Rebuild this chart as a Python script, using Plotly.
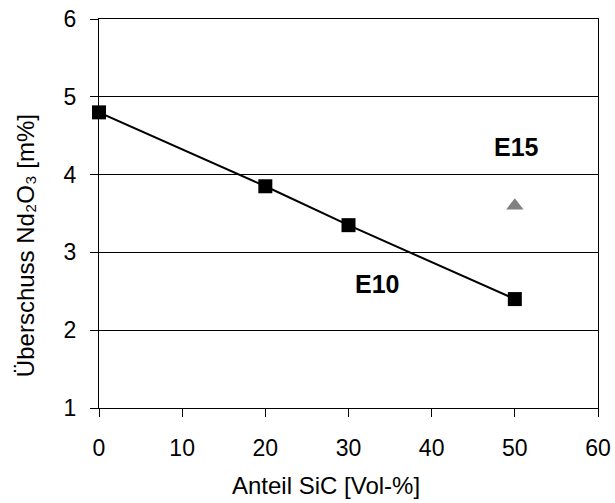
import plotly.graph_objects as go

x_e10 = [0, 20, 30, 50]
y_e10 = [4.8, 3.85, 3.35, 2.4]
x_e15 = [50]
y_e15 = [3.6]
x_ticks = [0, 10, 20, 30, 40, 50, 60]
y_ticks = [1, 2, 3, 4, 5, 6]

FONT = "Arial, Liberation Sans, sans-serif"

fig = go.Figure()
fig.add_trace(go.Scatter(x=x_e10, y=y_e10, mode="lines+markers",
                         line=dict(color="black", width=2),
                         marker=dict(symbol="square", size=14, color="black"),
                         showlegend=False, cliponaxis=False))
fig.add_trace(go.Scatter(x=x_e15, y=y_e15, mode="markers",
                         marker=dict(symbol="triangle-up", size=15, color="#808080"),
                         showlegend=False, cliponaxis=False))

fig.add_annotation(x=50.2, y=4.36, text="<b>E15</b>", showarrow=False,
                   font=dict(family=FONT, size=25, color="black"))
fig.add_annotation(x=33.4, y=2.59, text="<b>E10</b>", showarrow=False,
                   font=dict(family=FONT, size=25, color="black"))
# axis titles (placed as in the reference, slightly off-centre)
fig.add_annotation(xref="paper", yref="paper", x=0.455, y=-0.2,
                   text="Anteil SiC [Vol-%]", showarrow=False,
                   xanchor="center", yanchor="middle",
                   font=dict(family=FONT, size=24, color="black"))
fig.add_annotation(xref="paper", yref="paper", x=-0.146, y=0.4165,
                   text="Überschuss Nd₂O₃ [m%]", showarrow=False, textangle=-90,
                   xanchor="center", yanchor="middle",
                   font=dict(family=FONT, size=24, color="black"))

fig.update_layout(
    width=615, height=503,
    margin=dict(l=99, r=17, t=19, b=95, autoexpand=False),
    paper_bgcolor="white", plot_bgcolor="white",
    font=dict(family=FONT, size=23, color="black"),
    xaxis=dict(range=[0, 60], tickvals=x_ticks, showgrid=False,
               showline=True, linecolor="black", linewidth=1, mirror=True,
               ticks="outside", ticklen=8, tickcolor="black", zeroline=False,
               ticklabelstandoff=11, ticklabeloverflow="allow", automargin=False),
    yaxis=dict(range=[1, 6], tickvals=y_ticks, showgrid=True, gridcolor="black", gridwidth=1,
               showline=True, linecolor="black", linewidth=1, mirror=True,
               ticks="outside", ticklen=8, tickcolor="black", zeroline=False,
               ticklabelstandoff=9, ticklabeloverflow="allow", automargin=False),
)

# remove the browser's default 8px body margin so the figure sits at the page origin
fig.write_html("out.html", config={"displayModeBar": False},
               post_script="document.body.style.margin='0';document.body.style.padding='0';")
